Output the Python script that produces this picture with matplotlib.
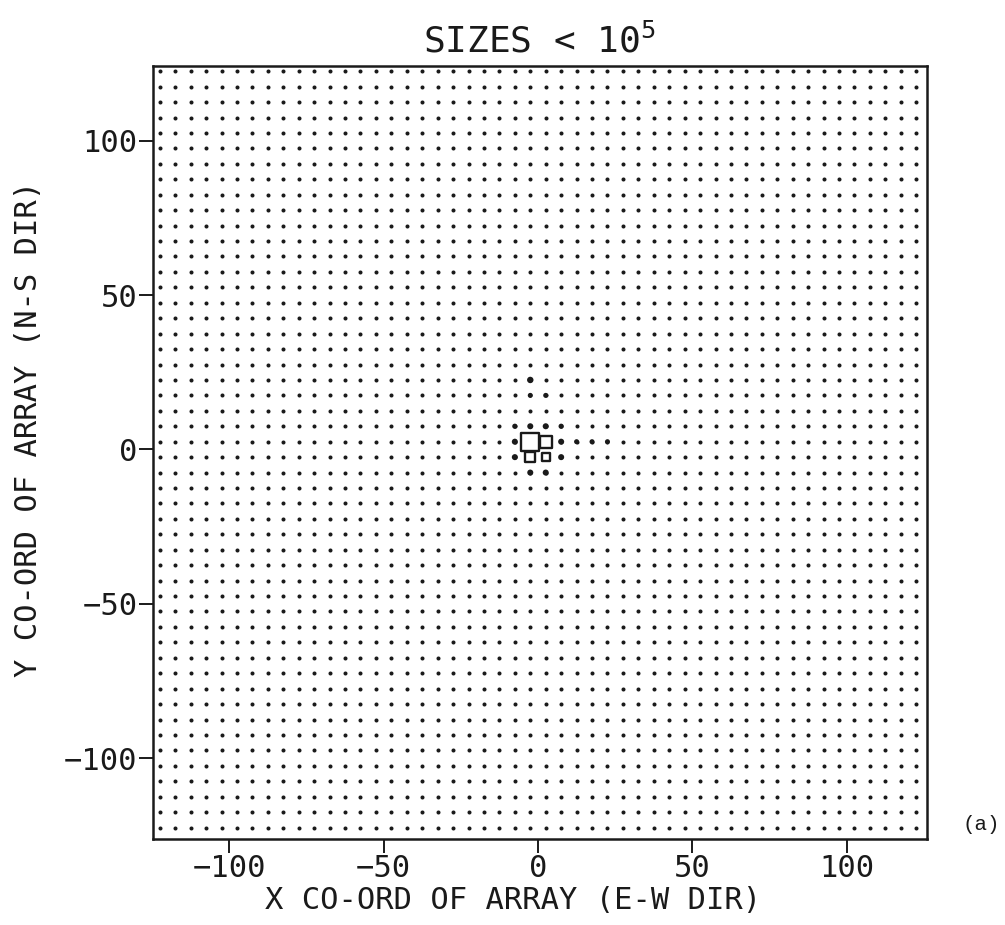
"""Shower-core size map over the detector array, sizes below 1e5."""
import numpy as np
import matplotlib.pyplot as plt

INK = "#1a1a1a"
plt.rcParams["font.family"] = ["DejaVu Sans Mono"]

# detector grid positions (m), 5 m pitch
grid_x = np.arange(-122.5, 125.0, 5.0)
grid_y = np.arange(-122.5, 125.0, 5.0)

# detectors with a heavier response near the core: x, y, level (1 = base dot)
heavy_x = [-2.5, -2.5, 2.5, -7.5, -2.5, 2.5, 7.5, -7.5, 7.5, 12.5, 17.5, 22.5, -7.5, 7.5, -2.5, 2.5]
heavy_y = [22.5, 17.5, 17.5, 7.5, 7.5, 7.5, 7.5, 2.5, 2.5, 2.5, 2.5, 2.5, -2.5, -2.5, -7.5, -7.5]
heavy_lv = [1.6, 1.25, 1.25, 1.3, 1.5, 1.5, 1.3, 1.5, 1.5, 1.25, 1.25, 1.25, 1.5, 1.5, 1.5, 1.5]

# core detectors drawn as open squares: x, y, relative size
core_x = [-2.5, 2.5, -2.5, 2.5]
core_y = [2.5, 2.5, -2.5, -2.5]
core_sz = [5.6, 3.7, 3.2, 2.6]

xticks = [-100, -50, 0, 50, 100]
yticks = [-100, -50, 0, 50, 100]

fig = plt.figure(figsize=(10.05, 9.25), dpi=100)
ax = fig.add_axes([153 / 1005, 1 - 839 / 925, 774 / 1005, 773 / 925])

base_ms = 2.9
gx, gy = np.meshgrid(grid_x, grid_y)
ax.plot(gx.ravel(), gy.ravel(), "o", ms=base_ms, color=INK, mec="none")
ax.scatter(heavy_x, heavy_y, s=(base_ms * np.array(heavy_lv)) ** 2, color=INK,
           edgecolors="none", zorder=3)

# squares sized in data units -> points
pts_per_unit = (774 / 250.7) * 0.72
for x, y, s in zip(core_x, core_y, core_sz):
    ax.scatter([x], [y], s=(s * pts_per_unit) ** 2, marker="s",
               facecolor="white", edgecolor=INK, linewidth=1.7, zorder=4)

ax.set_xlim(-124.7, 126.0)
ax.set_ylim(-126.2, 124.2)
ax.set_xticks(xticks)
ax.set_yticks(yticks)
ax.set_xticklabels([str(t).replace("-", "\u2212") for t in xticks])
ax.set_yticklabels([str(t).replace("-", "\u2212") for t in yticks])
ax.tick_params(direction="out", length=10, width=1.4, labelsize=22,
               colors=INK, pad=1)
for sp in ax.spines.values():
    sp.set_linewidth(1.8)
    sp.set_color(INK)

ax.set_title(r"SIZES < $\mathregular{10^5}$", fontsize=26, color=INK, pad=10)
ax.set_xlabel("X CO-ORD OF ARRAY (E-W DIR)", fontsize=22, color=INK,
              labelpad=2)
ax.set_ylabel("Y CO-ORD OF ARRAY (N-S DIR)", fontsize=22, color=INK,
              labelpad=15)
ax.xaxis.label.set_x(0.465)
ax.yaxis.label.set_y(0.53)

fig.text(962 / 1005, 1 - 825 / 925, "(a)", fontsize=15, color=INK,
         family="Liberation Mono", va="center")

fig.savefig("out.png", dpi=100, facecolor="white")
